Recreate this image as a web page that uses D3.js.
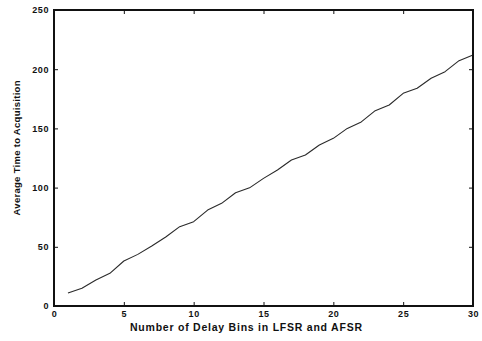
<!DOCTYPE html>
<html>
<head>
<meta charset="utf-8">
<script src="https://cdn.jsdelivr.net/npm/d3@7"></script>
<style>
  html, body { margin: 0; padding: 0; background: #fff; }
  svg { display: block; }
  text { font-family: "Liberation Sans", Arial, Helvetica, sans-serif; fill: #111; }
</style>
</head>
<body>
<svg id="chart" width="482" height="341"></svg>
<script>
// Number of delay bins (x) and mean acquisition time (y)
const delayBins = [1,2,3,4,5,6,7,8,9,10,11,12,13,14,15,16,17,18,19,20,21,22,23,24,25,26,27,28,29,30];
const avgTime = [11,15,22,27.6,38,43.6,50.7,58.3,67,71.2,81,86.7,95.7,99.8,107.8,114.9,123.3,127.5,136,141.6,150,155.5,165,169.8,179.6,183.9,192.3,197.9,207.2,212];
const xTicks = [0,5,10,15,20,25,30];
const yTicks = [0,50,100,150,200,250];
const xTitle = "Number of Delay Bins in LFSR and AFSR";
const yTitle = "Average Time to Acquisition";

const svg = d3.select("#chart");
const plot = { left: 54, right: 473, top: 10, bottom: 306 };

const x = d3.scaleLinear().domain([0, 30]).range([plot.left, plot.right]);
const y = d3.scaleLinear().domain([0, 250]).range([plot.bottom, plot.top]);

// data line
const line = d3.line().x((d, i) => x(delayBins[i])).y(d => y(d));
svg.append("path")
  .datum(avgTime)
  .attr("d", line)
  .attr("fill", "none")
  .attr("stroke", "#2a2a2a")
  .attr("stroke-width", 1.1)
  .attr("stroke-linejoin", "round");

// inward ticks on all four sides
const tickLen = 4;
const axisStyle = g => {
  g.select(".domain").remove();
  g.selectAll(".tick line").attr("stroke", "#111").attr("stroke-width", 1);
  g.selectAll(".tick text")
    .attr("font-size", 9)
    .attr("font-weight", "bold")
    .attr("letter-spacing", 0.6)
    .attr("fill", "#111");
};

svg.append("g").attr("transform", `translate(0,${plot.bottom})`)
  .call(d3.axisBottom(x).tickValues(xTicks).tickFormat(d3.format("d")).tickSizeInner(-tickLen).tickPadding(5))
  .call(axisStyle);
svg.append("g").attr("transform", `translate(0,${plot.top})`)
  .call(d3.axisTop(x).tickValues(xTicks).tickFormat("").tickSizeInner(-tickLen))
  .call(axisStyle);
svg.append("g").attr("transform", `translate(${plot.left},0)`)
  .call(d3.axisLeft(y).tickValues(yTicks).tickFormat(d3.format("d")).tickSizeInner(-tickLen).tickPadding(5))
  .call(axisStyle);
svg.append("g").attr("transform", `translate(${plot.right},0)`)
  .call(d3.axisRight(y).tickValues(yTicks).tickFormat("").tickSizeInner(-tickLen))
  .call(axisStyle);

// plot frame
svg.append("rect")
  .attr("x", plot.left).attr("y", plot.top)
  .attr("width", plot.right - plot.left).attr("height", plot.bottom - plot.top)
  .attr("fill", "none").attr("stroke", "#111").attr("stroke-width", 2);

// axis titles
svg.append("text")
  .attr("x", 246).attr("y", 331)
  .attr("text-anchor", "middle")
  .attr("font-size", 10.5)
  .attr("font-weight", "bold")
  .attr("textLength", 232)
  .attr("lengthAdjust", "spacing")
  .text(xTitle);

svg.append("text")
  .attr("transform", "translate(20,148) rotate(-90)")
  .attr("text-anchor", "middle")
  .attr("font-size", 9.5)
  .attr("font-weight", "bold")
  .attr("textLength", 135)
  .attr("lengthAdjust", "spacing")
  .text(yTitle);
</script>
</body>
</html>
